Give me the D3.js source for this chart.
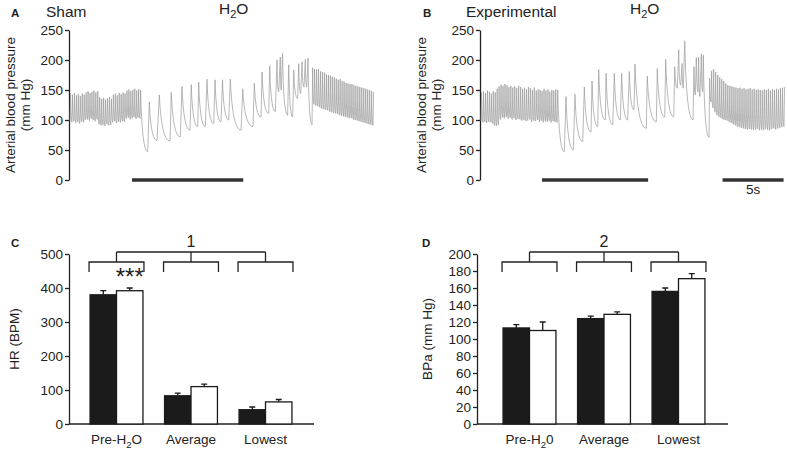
<!DOCTYPE html>
<html>
<head>
<meta charset="utf-8">
<script src="https://cdn.jsdelivr.net/npm/d3@7"></script>
<style>
    body { margin: 0; background: #fff; }
    svg { display: block; font-family: "Liberation Sans", Arial, sans-serif; }
    .axis path, .axis line { stroke: #222; stroke-width: 1.3; }
    .axis text { font-size: 13.5px; fill: #222; }
    .trace { fill: none; stroke: #9a9a9a; stroke-width: 0.7; }
    .lbl { fill: #222; }
</style>
</head>
<body>
<div id="fig"></div>
<script>
// ---- traces (mm Hg, time in s) ----
const traceTicks = [0, 50, 100, 150, 200, 250];
const traceSeconds = [0, 25];

// Sham: baseline beats before water
const shamBaseSpan = [0, 5.9];
const shamBaseSys = [144,142,145,141,143,140,144,142,146,148,145,147,149,146,148,138,135,137,134,136,138,135,142,144,141,145,143,146,144,149,151,148,150,152,149,151,150];
const shamBaseDia = [99,96,98,95,97,94,97,96,100,101,99,102,100,98,101,93,91,92,90,93,91,92,96,98,95,97,96,98,97,102,104,101,103,105,102,104,103];
// Sham: slow beats during water, [time, pressure] trough / peak
const shamSlowBeats = [[6.37,47],[6.50,130],[7.13,66],[7.32,142],[8.20,65],[8.30,146],[9.04,72],[9.18,156],[9.84,83],[9.94,159],[10.47,89],[10.55,163],[11.09,89],[11.23,168],[11.78,94],[11.89,167],[12.38,97],[12.50,167],[13.01,100],[13.14,168],[14.02,83],[14.16,152],[15.00,89],[15.11,161],[15.66,105],[15.74,180],[16.29,111],[16.37,190],[16.83,114],[16.97,200],[17.11,147],[17.24,205],[17.32,150],[17.42,211],[17.84,108],[17.93,192],[18.25,105],[18.34,183],[18.66,136],[18.75,194],[18.91,144],[19.02,197],[19.18,155],[19.29,201],[19.40,155],[19.51,203]];
// Sham: recovery beats
const shamRecSpan = [19.84, 25];
const shamRecSys = [187,185,184,185,181,180,179,176,175,174,172,171,169,167,168,165,164,162,161,160,160,158,157,156,155,154,153,152,151,150,148,147];
const shamRecDia = [92,126,124,123,121,119,118,117,116,114,113,112,111,110,108,107,106,105,104,103,103,101,100,99,98,97,96,95,94,93,92,91];
const shamWater = [5.08, 14.2];

// Experimental
const expBaseSpan = [0, 6.4];
const expBaseSys = [146,148,145,149,147,144,148,146,152,156,159,157,160,158,155,157,154,156,153,157,155,152,154,151,155,153,150,154,149,151,150,148,152,149,151,147,150,149,151,150];
const expBaseDia = [98,96,97,95,97,96,94,91,90,92,101,104,103,105,102,104,101,103,100,102,101,99,100,98,99,101,97,99,98,100,97,99,96,98,97,99,96,98,97,96];
const expSlowBeats = [[6.83,47],[6.97,139],[7.57,50],[7.70,143],[8.34,64],[8.47,155],[9.02,80],[9.10,165],[9.57,89],[9.65,184],[10.19,100],[10.25,178],[10.80,92],[10.93,178],[11.42,100],[11.53,178],[12.02,100],[12.16,181],[12.54,117],[12.62,193],[13.55,86],[13.63,173],[14.37,97],[14.45,186],[15.06,105],[15.14,201],[15.80,105],[15.88,189],[16.09,153],[16.21,217],[16.37,158],[16.48,194],[16.58,153],[16.70,232],[17.38,100],[17.46,189],[17.57,142],[17.65,204],[17.79,147],[17.84,205],[17.95,139],[18.06,210],[18.17,147],[18.22,208]];
const expRecSpan = [18.69, 25];
const expRecSys = [170,182,185,180,175,171,168,165,161,158,157,156,155,154,153,154,152,153,151,152,153,151,152,150,151,150,149,151,150,152,149,151,150,152,151,153,154,155];
const expRecDia = [71,130,120,113,108,105,103,101,100,99,97,95,93,91,89,88,87,86,85,84,85,84,83,84,85,83,84,83,85,84,83,85,86,84,86,87,88,89];
const expWater = [5.0, 13.7];
const timeBar = [19.8, 24.8];

// ---- bar charts ----
const hrGroups = ['Pre-H2O', 'Average', 'Lowest'];
const hrTicks = [0, 100, 200, 300, 400, 500];
const hrSham = [380, 83, 42];
const hrShamErr = [12, 8, 8];
const hrExp = [392, 110, 65];
const hrExpErr = [8, 7, 7];

const bpGroups = ['Pre-H20', 'Average', 'Lowest'];
const bpTicks = [0, 20, 40, 60, 80, 100, 120, 140, 160, 180, 200];
const bpSham = [113, 124, 156];
const bpShamErr = [4, 3, 4];
const bpExp = [110, 129, 171];
const bpExpErr = [10, 3, 6];

const svg = d3.select('#fig').append('svg')
    .attr('width', 787)
    .attr('height', 452);

// text with subscript "2" after H
function subText(sel, label, size, drop) {
    const m = label.match(/^(.*H)2(.*)$/);
    sel.text(null);
    if (!m) { sel.text(label); return; }
    sel.append('tspan').text(m[1]);
    sel.append('tspan').attr('dy', drop).attr('font-size', size).text('2');
    sel.append('tspan').attr('dy', -drop).text(m[2]);
}

function beatPoints(span, sys, dia) {
    const dt = (span[1] - span[0]) / sys.length;
    const pts = [];
    sys.forEach((s, i) => {
        pts.push([span[0] + i * dt, dia[i]]);
        pts.push([span[0] + (i + 0.3) * dt, s]);
    });
    return pts;
}

function drawTrace(cfg) {
    const x = d3.scaleLinear().domain(traceSeconds).range([cfg.axisX + 1, cfg.axisX + 306]);
    const y = d3.scaleLinear().domain([0, 250]).range([180, 30]);

    svg.append('g')
        .attr('class', 'axis')
        .attr('transform', `translate(${cfg.axisX},0)`)
        .call(d3.axisLeft(y).tickValues(traceTicks).tickSize(4).tickSizeOuter(0).tickPadding(2));

    const pts = beatPoints(cfg.baseSpan, cfg.baseSys, cfg.baseDia)
        .concat(cfg.slow)
        .concat(beatPoints(cfg.recSpan, cfg.recSys, cfg.recDia));

    const p = d3.path();
    p.moveTo(x(pts[0][0]), y(pts[0][1]));
    for (let i = 1; i < pts.length; i++) {
        const x0 = x(pts[i - 1][0]), y0 = y(pts[i - 1][1]);
        const x1 = x(pts[i][0]), y1 = y(pts[i][1]);
        if (y1 <= y0) p.lineTo(x1, y1);
        else p.quadraticCurveTo(x0 + (x1 - x0) * 0.2, y1, x1, y1);
    }
    svg.append('path').attr('class', 'trace').attr('d', p.toString());

    // water / time bars
    cfg.bars.forEach(b => {
        svg.append('line')
            .attr('x1', x(b[0])).attr('x2', x(b[1]))
            .attr('y1', y(0)).attr('y2', y(0))
            .attr('stroke', '#333').attr('stroke-width', 3.6);
    });
    if (cfg.timeLabel) {
        svg.append('text').attr('class', 'lbl')
            .attr('x', x((timeBar[0] + timeBar[1]) / 2)).attr('y', 194)
            .attr('text-anchor', 'middle').attr('font-size', 13.5)
            .text(cfg.timeLabel);
    }

    // titles
    svg.append('text').attr('class', 'lbl')
        .attr('x', cfg.letterX).attr('y', 17)
        .attr('font-size', 11.5).attr('font-weight', 'bold')
        .text(cfg.letter);
    svg.append('text').attr('class', 'lbl')
        .attr('x', cfg.titleX).attr('y', 17)
        .attr('font-size', 15.5)
        .text(cfg.title);
    svg.append('text').attr('class', 'lbl')
        .attr('x', cfg.h2oX).attr('y', 14)
        .attr('font-size', 15.5)
        .call(subText, 'H2O', 11, 4);

    const yc = y(125);
    svg.append('text').attr('class', 'lbl')
        .attr('transform', `translate(${cfg.axisX - 54},${yc}) rotate(-90)`)
        .attr('text-anchor', 'middle').attr('font-size', 13.5)
        .text('Arterial blood pressure');
    svg.append('text').attr('class', 'lbl')
        .attr('transform', `translate(${cfg.axisX - 39},${yc}) rotate(-90)`)
        .attr('text-anchor', 'middle').attr('font-size', 13.5)
        .text('(mm Hg)');
}

function drawBars(cfg) {
    const y = d3.scaleLinear().domain([0, cfg.ticks[cfg.ticks.length - 1]]).range([424, 254]);
    const x = d3.scaleBand().domain(cfg.groups).range(cfg.range)
        .paddingInner(0.29).paddingOuter(0.145);
    const bw = x.bandwidth() / 2;

    svg.append('g')
        .attr('class', 'axis')
        .attr('transform', `translate(${cfg.axisX},0)`)
        .call(d3.axisLeft(y).tickValues(cfg.ticks).tickSize(4).tickSizeOuter(0).tickPadding(2));

    const xg = svg.append('g')
        .attr('class', 'axis')
        .attr('transform', `translate(0,${y(0)})`)
        .call(d3.axisBottom(x).tickSize(0).tickPadding(10));
    xg.select('.domain').remove();
    xg.selectAll('.tick text').each(function(d) {
        d3.select(this).call(subText, d, 9.5, 4);
    });
    svg.append('line')
        .attr('x1', cfg.axisX).attr('x2', cfg.axisEnd)
        .attr('y1', y(0)).attr('y2', y(0))
        .attr('stroke', '#222').attr('stroke-width', 1.3);

    const rows = cfg.groups.map((g, i) => ({
        g, a: cfg.sham[i], ae: cfg.shamErr[i], b: cfg.exp[i], be: cfg.expErr[i]
    }));
    const series = [];
    rows.forEach(r => {
        series.push({ g: r.g, off: 0, v: r.a, e: r.ae, fill: '#1b1b1b' });
        series.push({ g: r.g, off: bw, v: r.b, e: r.be, fill: '#fff' });
    });

    // error bars (upper only)
    svg.append('g').selectAll('path')
        .data(series)
        .join('path')
        .attr('d', d => {
            const cx = x(d.g) + d.off + bw / 2;
            return `M${cx},${y(d.v)}V${y(d.v + d.e)}M${cx - 3},${y(d.v + d.e)}H${cx + 3}`;
        })
        .attr('stroke', '#1b1b1b').attr('stroke-width', 1.3).attr('fill', 'none');

    svg.append('g').selectAll('rect')
        .data(series)
        .join('rect')
        .attr('x', d => x(d.g) + d.off)
        .attr('y', d => y(d.v))
        .attr('width', bw)
        .attr('height', d => y(0) - y(d.v))
        .attr('fill', d => d.fill)
        .attr('stroke', '#1b1b1b')
        .attr('stroke-width', 1.3);

    // brackets
    const top = y.range()[1];
    const br = svg.append('g').attr('fill', 'none').attr('stroke', '#222').attr('stroke-width', 1.3);
    cfg.groups.forEach(g => {
        const l = x(g) - 1, r = x(g) + x.bandwidth() + 1;
        br.append('path').attr('d', `M${l},${top + 18}V${top + 8}H${r}V${top + 18}`);
        br.append('path').attr('d', `M${x(g) + bw},${top + 8}V${top - 2}`);
    });
    const c0 = x(cfg.groups[0]) + bw, c1 = x(cfg.groups[2]) + bw;
    br.append('path').attr('d', `M${c0},${top - 2}H${c1}`);

    svg.append('text').attr('class', 'lbl')
        .attr('x', x(cfg.groups[1]) + bw).attr('y', top - 7)
        .attr('text-anchor', 'middle').attr('font-size', 16)
        .text(cfg.mark);
    if (cfg.stars) {
        svg.append('text').attr('class', 'lbl')
            .attr('x', x(cfg.groups[0]) + bw * 1.5).attr('y', top + 31)
            .attr('text-anchor', 'middle').attr('font-size', 24)
            .text(cfg.stars);
    }

    svg.append('text').attr('class', 'lbl')
        .attr('x', cfg.letterX).attr('y', 247)
        .attr('font-size', 11.5).attr('font-weight', 'bold')
        .text(cfg.letter);
    svg.append('text').attr('class', 'lbl')
        .attr('transform', `translate(${cfg.axisX - cfg.labelOff},${(y(0) + top) / 2}) rotate(-90)`)
        .attr('text-anchor', 'middle').attr('font-size', 13.5)
        .text(cfg.yLabel);
}

drawTrace({
    axisX: 69, letter: 'A', letterX: 11, title: 'Sham', titleX: 46, h2oX: 219,
    baseSpan: shamBaseSpan, baseSys: shamBaseSys, baseDia: shamBaseDia,
    slow: shamSlowBeats,
    recSpan: shamRecSpan, recSys: shamRecSys, recDia: shamRecDia,
    bars: [shamWater]
});

drawTrace({
    axisX: 480, letter: 'B', letterX: 423, title: 'Experimental', titleX: 466, h2oX: 630,
    baseSpan: expBaseSpan, baseSys: expBaseSys, baseDia: expBaseDia,
    slow: expSlowBeats,
    recSpan: expRecSpan, recSys: expRecSys, recDia: expRecDia,
    bars: [expWater, timeBar], timeLabel: '5s'
});

drawBars({
    axisX: 69, axisEnd: 314, range: [79.25, 302.75], groups: hrGroups, ticks: hrTicks,
    sham: hrSham, shamErr: hrShamErr, exp: hrExp, expErr: hrExpErr,
    mark: '1', stars: '***', letter: 'C', letterX: 11, yLabel: 'HR (BPM)', labelOff: 50
});

drawBars({
    axisX: 477, axisEnd: 728, range: [492.25, 715.75], groups: bpGroups, ticks: bpTicks,
    sham: bpSham, shamErr: bpShamErr, exp: bpExp, expErr: bpExpErr,
    mark: '2', letter: 'D', letterX: 422, yLabel: 'BPa (mm Hg)', labelOff: 45
});
</script>
</body>
</html>
